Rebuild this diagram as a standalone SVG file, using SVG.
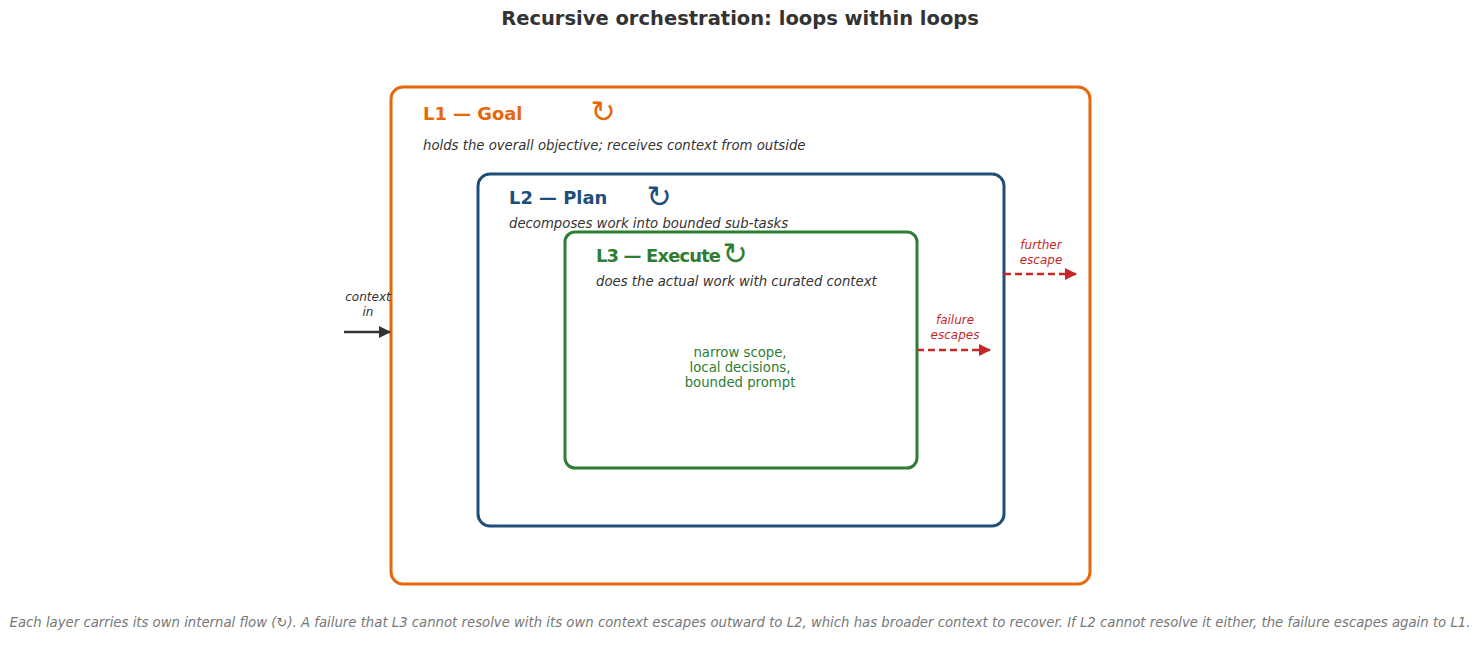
<svg xmlns="http://www.w3.org/2000/svg" width="1481" height="661" viewBox="0 0 1481 661">
<style>
text{font-family:"DejaVu Sans",sans-serif}
.box{fill:#fff;stroke-width:3}
.lbl{font-weight:bold;font-size:17.9px}
.sub{font-style:italic;font-size:13.25px;fill:#333}
.ico{font-size:30px}
.note{font-style:italic;font-size:12px;fill:#c62828}
.esc{stroke:#c62828;stroke-width:2.5;stroke-dasharray:7,4;fill:none}
</style>
<defs>
<marker id="ar" markerWidth="12" markerHeight="12" refX="11" refY="6" orient="auto" markerUnits="userSpaceOnUse" viewBox="0 0 12 12"><path d="M0,0L12,6L0,12z" fill="#c62828"/></marker>
<marker id="ak" markerWidth="12" markerHeight="12" refX="11" refY="6" orient="auto" markerUnits="userSpaceOnUse" viewBox="0 0 12 12"><path d="M0,0L12,6L0,12z" fill="#333"/></marker>
</defs>
<rect width="1481" height="661" fill="#fff"/>
<text x="740" y="25" text-anchor="middle" font-size="19.5" font-weight="bold" fill="#333">Recursive orchestration: loops within loops</text>
<g id="L1">
<rect class="box" x="391" y="87" width="699" height="497" rx="12" stroke="#e8670a"/>
<text class="lbl" x="423" y="120" fill="#e8670a">L1 — Goal</text>
<text class="ico" x="603" y="122" text-anchor="middle" fill="#e8670a">↻</text>
<text class="sub" x="423" y="150">holds the overall objective; receives context from outside</text>
</g>
<g id="L2">
<rect class="box" x="478" y="174" width="526" height="352" rx="12" stroke="#1f4e79"/>
<text class="lbl" x="509" y="204" fill="#1f4e79">L2 — Plan</text>
<text class="ico" x="659" y="207" text-anchor="middle" fill="#1f4e79">↻</text>
<text class="sub" x="509" y="228">decomposes work into bounded sub-tasks</text>
</g>
<g id="L3">
<rect class="box" x="565" y="232" width="352" height="236" rx="10" stroke="#2e7d32"/>
<text class="lbl" x="596" y="262" fill="#2e7d32" font-size="17" textLength="125">L3 — Execute</text>
<text class="ico" x="735" y="264" text-anchor="middle" fill="#2e7d32" font-size="26">↻</text>
<text class="sub" x="596" y="286">does the actual work with curated context</text>
<text x="740" y="357" text-anchor="middle" font-size="13.25" fill="#2e7d32">narrow scope,</text>
<text x="740" y="372" text-anchor="middle" font-size="13.25" fill="#2e7d32">local decisions,</text>
<text x="740" y="387" text-anchor="middle" font-size="13.25" fill="#2e7d32">bounded prompt</text>
</g>
<g id="connectors">
<line x1="344" y1="332" x2="390" y2="332" stroke="#333" stroke-width="2.5" marker-end="url(#ak)"/>
<text x="368" y="301" text-anchor="middle" font-size="12" font-style="italic" fill="#333">context</text>
<text x="368" y="316" text-anchor="middle" font-size="12" font-style="italic" fill="#333">in</text>
<line class="esc" x1="917" y1="350" x2="990" y2="350" marker-end="url(#ar)"/>
<text class="note" x="955" y="324" text-anchor="middle">failure</text>
<text class="note" x="955" y="339" text-anchor="middle">escapes</text>
<line class="esc" x1="1004" y1="274" x2="1076" y2="274" marker-end="url(#ar)"/>
<text class="note" x="1041" y="249" text-anchor="middle">further</text>
<text class="note" x="1041" y="264" text-anchor="middle">escape</text>
</g>
<text x="740" y="627" text-anchor="middle" font-size="13.25" font-style="italic" fill="#777">Each layer carries its own internal flow (↻). A failure that L3 cannot resolve with its own context escapes outward to L2, which has broader context to recover. If L2 cannot resolve it either, the failure escapes again to L1.</text>
</svg>
